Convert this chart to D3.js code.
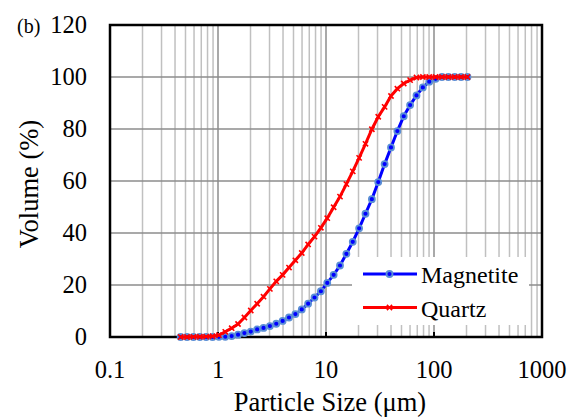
<!DOCTYPE html>
<html lang="en">

<head>
  <meta charset="UTF-8">
  <title>Particle size distribution</title>
  <style>
    body {
      margin: 0;
      background: #fff;
    }

    svg text {
      font-family: "Liberation Serif", "Times New Roman", serif;
      fill: #000;
    }
  </style>
</head>

<body>

  <div id="chart"></div>

  <script src="https://cdnjs.cloudflare.com/ajax/libs/d3/7.8.5/d3.min.js"></script>
  <script>
    // particle sizes (um) of the analyser channels
    const sizes = [0.451, 0.517, 0.592, 0.679, 0.777, 0.890, 1.020, 1.168, 1.338, 1.533,
      1.756, 2.011, 2.304, 2.639, 3.023, 3.463, 3.967, 4.545, 5.206, 5.964,
      6.832, 7.826, 8.966, 10.27, 11.77, 13.48, 15.44, 17.69, 20.26, 23.21,
      26.59, 30.46, 34.89, 39.97, 45.79, 52.46, 60.09, 68.84, 78.86, 90.34,
      103.49, 118.55, 135.81, 155.58, 178.22, 204.16]

    // cumulative volume (%)
    const magnetite = [0, 0, 0, 0, 0, 0, 0.05, 0.1, 0.35, 0.9,
      1.5, 2.1, 2.9, 3.5, 4.2, 5.1, 6.2, 7.5, 8.8, 10.6,
      12.8, 15.2, 17.6, 20.8, 23.9, 27.5, 32.0, 36.6, 41.8, 47.4,
      53.0, 59.6, 66.5, 72.9, 79.2, 84.9, 89.2, 92.9, 96.0, 98.2,
      99.3, 100, 100, 100, 100, 100]

    const quartz = [0, 0, 0.05, 0.1, 0.15, 0.3, 0.7, 2.0, 3.4, 5.0,
      7.5, 10.2, 12.8, 15.5, 18.5, 21.4, 23.9, 26.7, 29.5, 32.3,
      35.6, 38.6, 42.0, 45.7, 49.9, 54.0, 58.8, 63.7, 68.9, 74.3,
      79.9, 84.7, 88.5, 92.7, 95.5, 97.5, 98.8, 99.8, 100, 100,
      100, 100, 100, 100, 100, 100]

    const xTicks = [0.1, 1, 10, 100, 1000]
    const xTickLabels = ['0.1', '1', '10', '100', '1000']
    const yTicks = [0, 20, 40, 60, 80, 100, 120]

    const width = 568
    const height = 419
    const margin = { top: 25, right: 26, bottom: 82, left: 110 }
    const innerW = width - margin.left - margin.right
    const innerH = height - margin.top - margin.bottom

    const x = d3.scaleLog().domain([0.1, 1000]).range([0, innerW])
    const y = d3.scaleLinear().domain([0, 120]).range([innerH, 0])

    const svg = d3.select('#chart')
      .append('svg')
      .attr('width', width)
      .attr('height', height)

    const g = svg.append('g')
      .attr('transform', `translate(${margin.left}, ${margin.top})`)

    // minor vertical grid (2..9 of each decade)
    const minor = []
    for (let dec = 0.1; dec < 1000; dec *= 10) {
      for (let k = 2; k <= 9; k++) minor.push(dec * k)
    }
    g.append('g').selectAll('line')
      .data(minor)
      .join('line')
      .attr('x1', d => x(d)).attr('x2', d => x(d))
      .attr('y1', 0).attr('y2', innerH)
      .attr('stroke', '#c0c0c0')
      .attr('stroke-width', 1.5)

    // major vertical grid
    g.append('g').selectAll('line')
      .data(xTicks.slice(1, -1))
      .join('line')
      .attr('x1', d => x(d)).attr('x2', d => x(d))
      .attr('y1', 0).attr('y2', innerH)
      .attr('stroke', '#8c8c8c')
      .attr('stroke-width', 1.5)

    // horizontal grid
    g.append('g').selectAll('line')
      .data(yTicks.slice(1, -1))
      .join('line')
      .attr('x1', 0).attr('x2', innerW)
      .attr('y1', d => y(d)).attr('y2', d => y(d))
      .attr('stroke', '#8c8c8c')
      .attr('stroke-width', 1.5)

    // small inside tick marks on the x axis
    g.append('g').selectAll('line')
      .data(xTicks.slice(1, -1))
      .join('line')
      .attr('x1', d => x(d)).attr('x2', d => x(d))
      .attr('y1', innerH).attr('y2', innerH - 5)
      .attr('stroke', '#000')
      .attr('stroke-width', 2)

    // frame
    g.append('rect')
      .attr('width', innerW)
      .attr('height', innerH)
      .attr('fill', 'none')
      .attr('stroke', '#000')
      .attr('stroke-width', 2.5)

    // tick labels
    g.append('g').selectAll('text')
      .data(yTicks)
      .join('text')
      .attr('x', -23)
      .attr('y', d => y(d))
      .attr('dy', '0.34em')
      .attr('text-anchor', 'end')
      .style('font-size', '24.5px')
      .text(d => d)

    g.append('g').selectAll('text')
      .data(xTicks)
      .join('text')
      .attr('x', d => x(d))
      .attr('y', innerH + 41)
      .attr('text-anchor', 'middle')
      .style('font-size', '24.5px')
      .text((d, i) => xTickLabels[i])

    // axis titles
    svg.append('text')
      .attr('x', 330)
      .attr('y', 411)
      .attr('text-anchor', 'middle')
      .style('font-size', '26.5px')
      .text('Particle Size (μm)')

    svg.append('text')
      .attr('transform', 'translate(38, 184) rotate(-90)')
      .attr('text-anchor', 'middle')
      .style('font-size', '26.5px')
      .text('Volume (%)')

    svg.append('text')
      .attr('x', 17)
      .attr('y', 33)
      .style('font-size', '20px')
      .text('(b)')

    // series
    const line = d3.line()
      .x(d => x(d[0]))
      .y(d => y(d[1]))

    const magPts = sizes.map((s, i) => [s, magnetite[i]])
    const qtzPts = sizes.map((s, i) => [s, quartz[i]])

    function crossPath(s) {
      return `M${-s},${-s}L${s},${s}M${-s},${s}L${s},${-s}`
    }

    g.append('path')
      .datum(magPts)
      .attr('d', line)
      .attr('fill', 'none')
      .attr('stroke', '#0000ff')
      .attr('stroke-width', 3)

    g.append('g').selectAll('circle')
      .data(magPts)
      .join('circle')
      .attr('cx', d => x(d[0]))
      .attr('cy', d => y(d[1]))
      .attr('r', 3)
      .attr('fill', '#0000ff')
      .attr('stroke', '#5b8fd6')
      .attr('stroke-width', 1.8)

    g.append('path')
      .datum(qtzPts)
      .attr('d', line)
      .attr('fill', 'none')
      .attr('stroke', '#ff0000')
      .attr('stroke-width', 3)

    g.append('g').selectAll('path')
      .data(qtzPts)
      .join('path')
      .attr('transform', d => `translate(${x(d[0])}, ${y(d[1])})`)
      .attr('d', crossPath(2.6))
      .attr('stroke', '#ff0000')
      .attr('stroke-width', 1.6)

    // legend
    const legend = svg.append('g')
    legend.append('rect')
      .attr('x', 352).attr('y', 257)
      .attr('width', 177).attr('height', 68)
      .attr('fill', '#fff')

    const entries = [
      { name: 'Magnetite', color: '#0000ff', y: 274 },
      { name: 'Quartz', color: '#ff0000', y: 307.5 }
    ]
    entries.forEach((e, i) => {
      legend.append('line')
        .attr('x1', 363).attr('x2', 417)
        .attr('y1', e.y).attr('y2', e.y)
        .attr('stroke', e.color)
        .attr('stroke-width', 3)
      if (i === 0) {
        legend.append('circle')
          .attr('cx', 389.5).attr('cy', e.y)
          .attr('r', 3)
          .attr('fill', '#0000ff')
          .attr('stroke', '#5b8fd6')
          .attr('stroke-width', 1.8)
      } else {
        legend.append('path')
          .attr('transform', `translate(389.5, ${e.y})`)
          .attr('d', crossPath(2.6))
          .attr('stroke', '#ff0000')
          .attr('stroke-width', 1.6)
      }
      legend.append('text')
        .attr('x', 421)
        .attr('y', e.y + 9)
        .style('font-size', '24px')
        .text(e.name)
    })
  </script>
</body>

</html>
